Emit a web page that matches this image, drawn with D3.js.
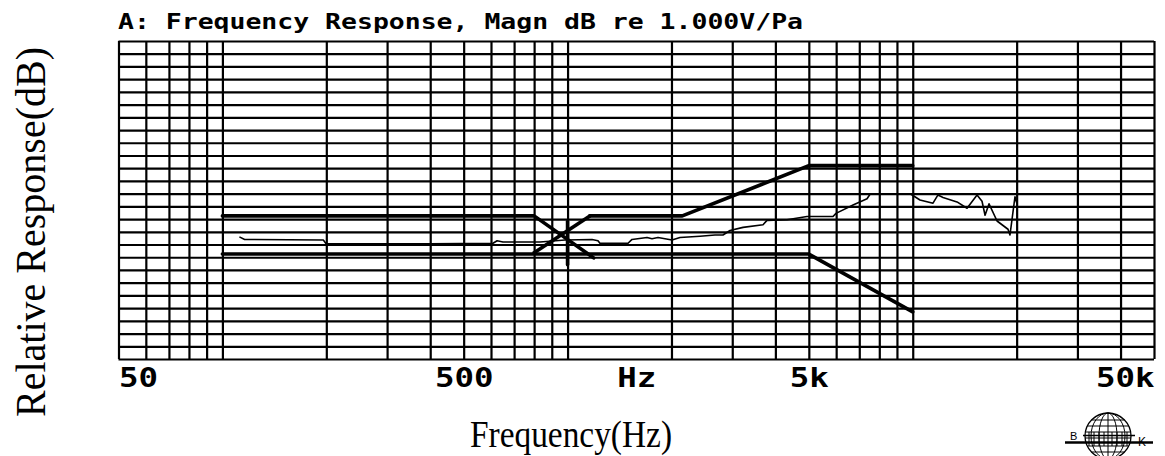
<!DOCTYPE html>
<html>
<head>
<meta charset="utf-8">
<script src="https://cdn.jsdelivr.net/npm/d3@7"></script>
<style>
  html, body { margin: 0; padding: 0; background: #fff; }
  svg { display: block; }
</style>
</head>
<body>
<svg id="chart" width="1165" height="456"></svg>
<script>
// ---------- data ----------
const titleText = "A: Frequency Response, Magn dB re 1.000V/Pa";
const xAxisTitle = "Frequency(Hz)";
const yAxisTitle = "Relative Response(dB)";

const gridFreqs = [50, 60, 70, 80, 90, 100, 200, 300, 400, 500, 600, 700, 800, 900,
  1000, 2000, 3000, 4000, 5000, 6000, 7000, 8000, 9000, 10000, 20000, 30000, 40000, 50000];
const tickValues = [50, 500, 1581, 5000, 50000];
const tickLabels = ["50", "500", "Hz", "5k", "50k"];

// measured response (thin line)
const responseFreq = [112, 116, 196, 200, 399, 608, 625, 650, 832, 983, 1177, 1225, 1241, 1497,
  1537, 1699, 1756, 1828, 2007, 2117, 2419, 2674, 2820, 2955, 3224, 3683, 3782, 4323, 4939, 5875,
  5994, 6714, 7372, 7521, 8039, 9885, 10495, 11447, 11835, 12237, 13437, 14365, 15357, 15875,
  16200, 16636, 17550, 18880, 19130, 19515, 19778, 20048];
const responseDb = [-50.8, -51.2, -51.3, -51.9, -51.9, -51.8, -51.4, -51.6, -51.6, -51.3, -51.2,
  -51.4, -51.8, -51.8, -51.2, -50.9, -51.1, -50.9, -51.3, -50.9, -50.7, -50.5, -50.5, -49.8, -49.3,
  -48.9, -48.2, -48.1, -47.6, -47.6, -47.1, -45.8, -44.8, -44.1, -44.1, -44.1, -45.0, -45.5, -44.2,
  -44.6, -45.3, -46.3, -44.2, -45.2, -47.4, -45.6, -48.3, -49.6, -50.5, -46.9, -44.5, -45.6];

// tolerance mask (thick lines)
const upperLimitFreq = [100, 800, 1190];
const upperLimitDb = [-47.5, -47.5, -54.1];
const upperLimit2Freq = [1160, 2150, 5000, 10000];
const upperLimit2Db = [-47.5, -47.5, -39.6, -39.6];
const lowerLimitFreq = [100, 5000, 10000];
const lowerLimitDb = [-53.5, -53.5, -62.6];
const crossFreq = [800, 1160];
const crossDb = [-53.3, -47.5];
const markerFreq = [1000, 1000];
const markerDb = [-48.4, -55.2];

// ---------- drawing ----------
const svg = d3.select("#chart");
const pL = 118.5, pR = 1154, pT = 41, pB = 359;

const x = d3.scaleLog().domain([50, 50000]).range([pL, pR]);
const y = d3.scaleLinear().domain([-70, -20]).range([pB, pT]);
const dbGrid = d3.range(-70, -19, 2);

const grid = svg.append("g");
const yGrid = d3.axisLeft(y).tickValues(dbGrid).tickSize(-(pR - pL)).tickFormat("");
grid.append("g").attr("transform", `translate(${pL},0)`).call(yGrid)
  .call(g => g.select(".domain").remove())
  .call(g => g.selectAll("line").attr("stroke", "#000").attr("stroke-width", 2.2));
const xGrid = d3.axisBottom(x).tickValues(gridFreqs).tickSize(-(pB - pT)).tickFormat("");
grid.append("g").attr("transform", `translate(0,${pB})`).call(xGrid)
  .call(g => g.select(".domain").remove())
  .call(g => g.selectAll("line").attr("stroke", "#000").attr("stroke-width", 2.2));

// tick labels
const xAxis = d3.axisBottom(x).tickValues(tickValues).tickSize(0)
  .tickFormat((d, i) => tickLabels[i]);
const xa = svg.append("g").attr("transform", `translate(0,${pB})`).call(xAxis);
xa.select(".domain").remove();
xa.selectAll("text")
  .attr("y", 27.5).attr("dy", 0)
  .attr("font-family", "'DejaVu Sans Mono', monospace")
  .attr("font-weight", "bold")
  .attr("font-size", 27)
  .attr("fill", "#000")
  .attr("text-anchor", (d, i) => i === 0 ? "start" : (i === tickLabels.length - 1 ? "end" : "middle"))
  .attr("textLength", (d, i) => tickLabels[i].length * 19.5)
  .attr("lengthAdjust", "spacingAndGlyphs");

const toPts = (fs, ds) => fs.map((f, i) => [f, ds[i]]);
const line = d3.line().x(d => x(d[0])).y(d => y(d[1]));

const thick = [
  toPts(upperLimitFreq, upperLimitDb),
  toPts(upperLimit2Freq, upperLimit2Db),
  toPts(lowerLimitFreq, lowerLimitDb),
  toPts(crossFreq, crossDb),
  toPts(markerFreq, markerDb)
];
svg.append("g").selectAll("path").data(thick).join("path")
  .attr("d", line).attr("fill", "none").attr("stroke", "#000")
  .attr("stroke-width", 3.6).attr("stroke-linejoin", "round").attr("stroke-linecap", "round");

svg.append("path").datum(toPts(responseFreq, responseDb))
  .attr("d", line).attr("fill", "none").attr("stroke", "#000")
  .attr("stroke-width", 1.6).attr("stroke-linejoin", "round");

// title
svg.append("text").attr("x", pL - 0.5).attr("y", 28.5)
  .attr("font-family", "'DejaVu Sans Mono', monospace").attr("font-weight", "bold")
  .attr("font-size", 22).attr("textLength", 685).attr("lengthAdjust", "spacingAndGlyphs")
  .attr("fill", "#000").text(titleText);

// axis titles
svg.append("text").attr("x", (470 + 672) / 2).attr("y", 447)
  .attr("text-anchor", "middle")
  .attr("font-family", "'Liberation Serif', 'Times New Roman', serif")
  .attr("font-size", 37).attr("textLength", 202).attr("lengthAdjust", "spacingAndGlyphs")
  .attr("fill", "#000").text(xAxisTitle);

svg.append("text").attr("transform", "translate(45,232) rotate(-90)")
  .attr("text-anchor", "middle")
  .attr("font-family", "'Liberation Serif', 'Times New Roman', serif")
  .attr("font-size", 42).attr("textLength", 370).attr("lengthAdjust", "spacingAndGlyphs")
  .attr("fill", "#000").text(yAxisTitle);

// B&K logo
const logo = svg.append("g").attr("transform", "translate(1108,436)");
const rr = 23;
logo.append("circle").attr("r", rr).attr("fill", "#fff").attr("stroke", "#000").attr("stroke-width", 1.3);
[17, 9].forEach(rx => logo.append("ellipse").attr("rx", rx).attr("ry", rr)
  .attr("fill", "none").attr("stroke", "#000").attr("stroke-width", 1));
logo.append("line").attr("y1", -rr).attr("y2", rr).attr("stroke", "#000");
[-16, -10, -4, 2, 10, 16].forEach(dy => {
  const hw = Math.sqrt(rr * rr - dy * dy);
  logo.append("line").attr("x1", -hw).attr("x2", hw).attr("y1", dy).attr("y2", dy)
    .attr("stroke", "#000").attr("stroke-width", 1);
});
[-19, -14, -9, -4, 4, 9, 14, 19].forEach(dx => {
  logo.append("line").attr("x1", dx).attr("x2", dx).attr("y1", -4).attr("y2", 10)
    .attr("stroke", "#000").attr("stroke-width", 1);
});
logo.append("line").attr("x1", -43).attr("x2", 45).attr("y1", 6.5).attr("y2", 6.5)
  .attr("stroke", "#000").attr("stroke-width", 2.4);
logo.append("line").attr("x1", -25).attr("x2", 27).attr("y1", -0.5).attr("y2", -0.5)
  .attr("stroke", "#000").attr("stroke-width", 1.6);
logo.append("text").attr("x", -38).attr("y", 3.5).attr("font-family", "'Liberation Sans', sans-serif")
  .attr("font-size", 11).text("B");
logo.append("text").attr("x", 30).attr("y", 10).attr("font-family", "'Liberation Sans', sans-serif")
  .attr("font-size", 12).text("K");
</script>
</body>
</html>
